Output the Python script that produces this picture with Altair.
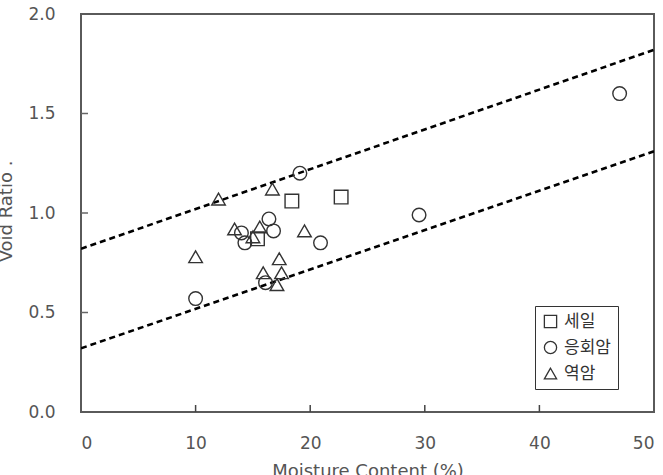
import altair as alt
import pandas as pd

# --- data ---
shale_w = [18.4, 22.7, 15.4]
shale_e = [1.06, 1.08, 0.87]

tuff_w = [10.0, 14.0, 14.3, 16.1, 16.4, 16.8, 19.1, 20.9, 29.5, 47.0]
tuff_e = [0.57, 0.90, 0.85, 0.65, 0.97, 0.91, 1.20, 0.85, 0.99, 1.60]

cong_w = [10.0, 12.0, 13.4, 15.0, 15.6, 15.9, 16.7, 17.1, 17.3, 17.5, 19.5]
cong_e = [0.78, 1.07, 0.92, 0.88, 0.93, 0.70, 1.12, 0.64, 0.77, 0.70, 0.91]

rock_names = ["세일", "응회암", "역암"]

line_w = [0, 50]
upper_e = [0.82, 1.82]
lower_e = [0.32, 1.31]

x_ticks = [10, 20, 30, 40]
y_ticks = [0.5, 1.0, 1.5]

pts = pd.concat([
    pd.DataFrame({"w": shale_w, "e": shale_e, "rock": rock_names[0]}),
    pd.DataFrame({"w": tuff_w, "e": tuff_e, "rock": rock_names[1]}),
    pd.DataFrame({"w": cong_w, "e": cong_e, "rock": rock_names[2]}),
])
lines = pd.concat([
    pd.DataFrame({"w": line_w, "e": upper_e, "grp": "upper"}),
    pd.DataFrame({"w": line_w, "e": lower_e, "grp": "lower"}),
])

W, H = 573, 398
xs = alt.Scale(domain=[0, 50], nice=False)
ys = alt.Scale(domain=[0, 2.0], nice=False)

x_axis = alt.Axis(values=[0, 10, 20, 30, 40, 50], format="d", title="Moisture Content (%)",
                  labelPadding=23, titleY=50, titleBaseline="top", titleFontSize=18,
                  titleFontWeight="normal", tickSize=0)
y_axis = alt.Axis(values=[0, 0.5, 1.0, 1.5, 2.0], format=".1f", title="Void Ratio   .",
                  labelPadding=26, titleAngle=-90, titleX=-70, titleY=197,
                  titleAlign="center", titleBaseline="alphabetic", titleFontSize=18,
                  titleFontWeight="normal", tickSize=0)

dash = alt.Chart(lines).mark_line(color="black", strokeWidth=2.6, strokeDash=[6, 4], clip=True).encode(
    x=alt.X("w:Q", scale=xs, axis=x_axis),
    y=alt.Y("e:Q", scale=ys, axis=y_axis),
    detail="grp:N",
)

points = alt.Chart(pts).mark_point(filled=False, size=185, strokeWidth=1.4, color="#333", opacity=1).encode(
    x=alt.X("w:Q", scale=xs),
    y=alt.Y("e:Q", scale=ys),
    shape=alt.Shape("rock:N",
                    scale=alt.Scale(domain=rock_names, range=["square", "circle", "triangle-up"]),
                    legend=alt.Legend(title=None, orient="none", legendX=454, legendY=292,
                                      strokeColor="#333", padding=7, symbolSize=150,
                                      symbolStrokeWidth=1.3, symbolStrokeColor="#333",
                                      labelFont="Noto Sans CJK KR", labelFontSize=17,
                                      labelColor="#333", rowPadding=7, symbolOffset=0,
                                      labelOffset=5)),
)

xt = alt.Chart(pd.DataFrame({"v": x_ticks})).mark_rule(color="#444", strokeWidth=1.5).encode(
    x=alt.X("v:Q", scale=xs), y=alt.value(H), y2=alt.value(H - 7))
yt = alt.Chart(pd.DataFrame({"v": y_ticks})).mark_rule(color="#666", strokeWidth=1.5).encode(
    y=alt.Y("v:Q", scale=ys), x=alt.value(0), x2=alt.value(7))

chart = alt.layer(dash, xt, yt, points).properties(
    width=W, height=H,
    autosize=alt.AutoSizeParams(type="none"),
    padding={"left": 81, "top": 14, "right": 9, "bottom": 63},
).configure_view(stroke="#5a5a5a", strokeWidth=2).configure_axis(
    domain=False, grid=False, ticks=False,
    labelFont="DejaVu Sans", labelFontSize=17, labelColor="#555",
    titleFont="DejaVu Sans", titleColor="#555",
)

chart.save("out.html", embed_options={"renderer": "svg", "actions": False})
